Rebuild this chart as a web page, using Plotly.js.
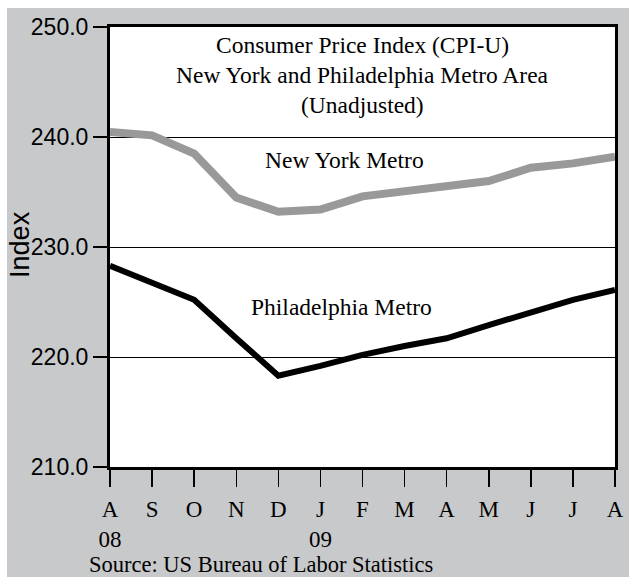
<!DOCTYPE html>
<html>
<head>
<meta charset="utf-8">
<script src="https://cdn.plot.ly/plotly-3.0.1.min.js"></script>
<style>
  html, body { margin: 0; padding: 0; background: #ffffff; width: 629px; height: 577px; overflow: hidden; }
  #chart { position: absolute; left: 0; top: 0; width: 629px; height: 577px; }
  .strip { position: absolute; background: #ffffff; z-index: 5; }
</style>
</head>
<body>
<div id="chart"></div>
<div class="strip" style="left:0;top:0;width:629px;height:8px;"></div>
<div class="strip" style="left:0;top:0;width:7px;height:577px;"></div>
<script>
// Data (Aug 2008 - Aug 2009)
const monthLabels = ["A", "S", "O", "N", "D", "J", "F", "M", "A", "M", "J", "J", "A"];
const yearLabels  = ["08", "", "", "", "", "09", "", "", "", "", "", "", ""];
const newYork      = [240.45, 240.15, 238.5, 234.5, 233.2, 233.4, 234.6, 235.1, 235.6, 236.0, 237.2, 237.6, 238.2];
const philadelphia = [228.3, 226.8, 225.2, 221.7, 218.3, 219.2, 220.2, 221.0, 221.7, 222.9, 224.1, 225.2, 226.1];
const yTicks = [210, 220, 230, 240, 250];

const xIdx = monthLabels.map((_, i) => i);
const tickText = monthLabels.map((m, i) => yearLabels[i] ? m + "<br>" + yearLabels[i] : m);

const serif = "'Liberation Serif', 'Times New Roman', serif";
const sans = "'Liberation Sans', Arial, sans-serif";

const traces = [
  { x: xIdx, y: newYork, type: "scatter", mode: "lines", name: "New York Metro",
    line: { color: "#999999", width: 8 }, hoverinfo: "skip" },
  { x: xIdx, y: philadelphia, type: "scatter", mode: "lines", name: "Philadelphia Metro",
    line: { color: "#000000", width: 6 }, hoverinfo: "skip" }
];

const txt = (s, x, y, size, xa) => ({
  text: s, xref: "paper", yref: "paper", x: x, y: y, showarrow: false,
  xanchor: xa || "center", yanchor: "middle", font: { family: serif, size: size, color: "#000" }
});

const layout = {
  width: 629, height: 577,
  paper_bgcolor: "#c8c9cb",
  plot_bgcolor: "#ffffff",
  margin: { l: 110, r: 14, t: 27, b: 110 },
  showlegend: false,
  xaxis: {
    range: [0, 12], tickvals: xIdx, ticktext: tickText,
    ticks: "outside", ticklen: 17, tickwidth: 1.5, tickcolor: "#000",
    ticklabelstandoff: 2,
    showline: true, linewidth: 3, linecolor: "#000", mirror: true,
    showgrid: false, zeroline: false,
    tickfont: { family: serif, size: 23, color: "#000" },
    fixedrange: true
  },
  yaxis: {
    range: [210, 250], tickvals: yTicks, ticktext: yTicks.map(v => v.toFixed(1)),
    ticks: "outside", ticklen: 14, tickwidth: 1.5, tickcolor: "#000",
    showline: true, linewidth: 3, linecolor: "#000", mirror: true,
    showgrid: true, gridcolor: "#000", gridwidth: 1, zeroline: false,
    tickfont: { family: sans, size: 23, color: "#000" },
    fixedrange: true
  },
  annotations: [
    txt("Consumer Price Index (CPI-U)", 0.5, 0.959, 23.5),
    txt("New York and Philadelphia Metro Area", 0.5, 0.891, 23.5),
    txt("(Unadjusted)", 0.5, 0.823, 23.5),
    txt("New York Metro", 0.464, 0.698, 23.5),
    txt("Philadelphia Metro", 0.459, 0.364, 23.5),
    txt("Source: US Bureau of Labor Statistics", -0.0455, -0.2227, 22.5, "left"),
    { text: "Index", xref: "paper", yref: "paper", x: -0.178, y: 0.505, textangle: -90,
      showarrow: false, xanchor: "center", yanchor: "middle", font: { family: sans, size: 27, color: "#000" } }
  ]
};

Plotly.newPlot("chart", traces, layout, { staticPlot: true, displayModeBar: false });
</script>
</body>
</html>
